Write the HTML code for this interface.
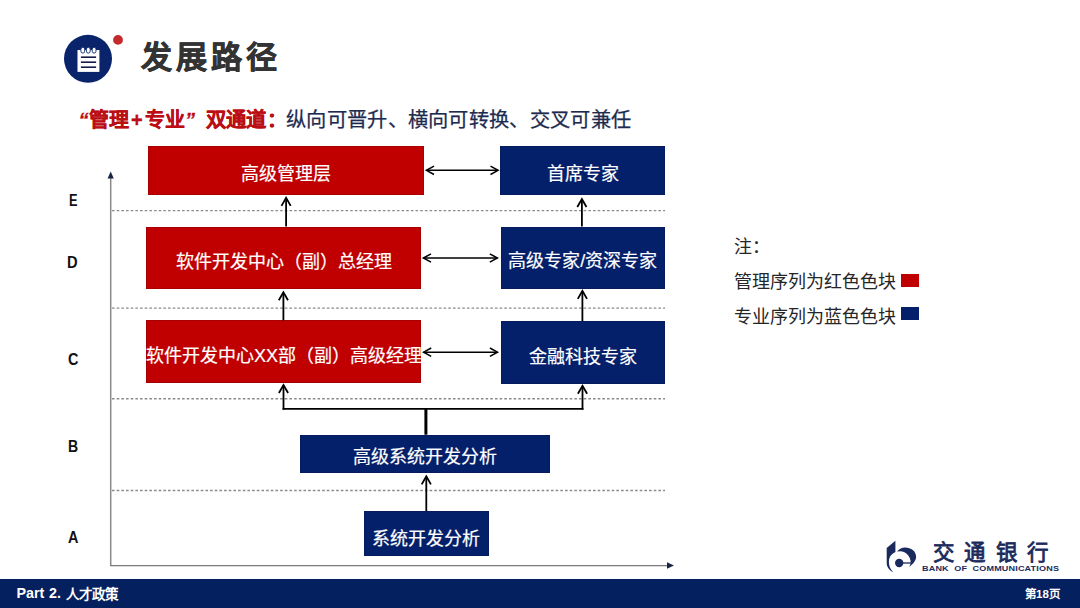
<!DOCTYPE html>
<html lang="zh-CN"><head><meta charset="utf-8">
<style>
html,body{margin:0;padding:0;}
body{width:1080px;height:608px;position:relative;overflow:hidden;background:#fff;font-family:"Liberation Sans",sans-serif;}
.abs{position:absolute;white-space:nowrap;line-height:1;}
.box{position:absolute;box-shadow:inset 0 0 0 1px rgba(0,0,0,0.12);color:#fff;font-size:18px;white-space:nowrap;line-height:1;}
.box span{position:absolute;left:0;right:0;text-align:center;-webkit-text-stroke:0.2px #fff;}
.red{background:#c00000;}
.blue{background:#05206a;}
.lbl{position:absolute;font-weight:bold;font-size:16px;color:#111;line-height:1;}
.rt{position:absolute;font-weight:bold;font-size:20px;color:#bb0d14;-webkit-text-stroke:0.3px #bb0d14;line-height:1;white-space:nowrap;}
</style></head><body>
<svg class="abs" style="left:0;top:0" width="1080" height="608" viewBox="0 0 1080 608">
  <circle cx="88" cy="58.8" r="24" fill="#0a246c"/>
  <circle cx="118" cy="39.9" r="4.9" fill="#c42a2a"/>
  <rect x="77.5" y="50" width="21.9" height="21.9" fill="#fff"/>
  <rect x="80.9" y="47.3" width="3.8" height="5.8" rx="1.9" fill="#fff" stroke="#0a246c" stroke-width="0.9"/>
  <rect x="86.4" y="47.3" width="3.8" height="5.8" rx="1.9" fill="#fff" stroke="#0a246c" stroke-width="0.9"/>
  <rect x="92.2" y="47.3" width="3.8" height="5.8" rx="1.9" fill="#fff" stroke="#0a246c" stroke-width="0.9"/>
  <rect x="80.9" y="56.4" width="15.2" height="1.6" fill="#141d45"/>
  <rect x="80.9" y="61.4" width="15.2" height="1.6" fill="#141d45"/>
  <rect x="80.9" y="66.4" width="15.2" height="1.6" fill="#141d45"/>
  <line x1="110.7" y1="177" x2="110.7" y2="566" stroke="#8a8a8a" stroke-width="1.5"/>
  <polygon points="110.7,171.5 107.6,178.5 113.8,178.5" fill="#1a2545"/>
  <line x1="110" y1="565.5" x2="668" y2="565.5" stroke="#7a7a7a" stroke-width="1.25"/>
  <polygon points="674,565.5 667,562.3 667,568.7" fill="#1a2545"/>
  <g stroke="#8a8a8a" stroke-dasharray="2.6 2.07">
    <line x1="112" y1="210.7" x2="665" y2="210.7" stroke-width="1.2"/>
    <line x1="112" y1="308.2" x2="665" y2="308.2" stroke-width="1.2"/>
    <line x1="112" y1="398.8" x2="665" y2="398.8" stroke-width="1.5"/>
    <line x1="112" y1="490.6" x2="665" y2="490.6" stroke-width="1.5"/>
  </g>
</svg>
<div class="abs" style="left:141px;top:41.5px;font-size:31px;letter-spacing:4px;font-weight:bold;color:#333;-webkit-text-stroke:0.6px #333">发展路径</div>
<div class="rt" style="left:78.5px;top:109.5px;font-style:italic">“</div>
<div class="rt" style="left:89px;top:109.5px">管理</div>
<div class="rt" style="left:131px;top:109.5px">+</div>
<div class="rt" style="left:145px;top:109.5px">专业</div>
<div class="rt" style="left:185px;top:109.5px;font-style:italic">”</div>
<div class="rt" style="left:206px;top:109.5px;font-size:20.4px">双通道</div><div class="rt" style="left:267px;top:109.5px">：</div>
<div class="abs" style="left:286px;top:109.5px;font-size:20.3px;letter-spacing:0.31px;color:#1e2b50;-webkit-text-stroke:0.25px #1e2b50">纵向可晋升、横向可转换、交叉可兼任</div>

<div class="box red" style="left:148px;top:146px;width:276px;height:48.6px"><span style="top:19px">高级管理层</span></div>
<div class="box blue" style="left:500px;top:146px;width:165px;height:49px"><span style="top:19px">首席专家</span></div>
<div class="box red" style="left:146px;top:226.5px;width:275px;height:62.5px"><span style="top:26px">软件开发中心（副）总经理</span></div>
<div class="box blue" style="left:500.5px;top:226.5px;width:164.5px;height:62px"><span style="top:25.5px">高级专家/资深专家</span></div>
<div class="box red" style="left:146px;top:320.3px;width:275px;height:62.6px"><span style="top:26.5px">软件开发中心XX部（副）高级经理</span></div>
<div class="box blue" style="left:500.5px;top:321px;width:164.5px;height:62.5px"><span style="top:26.5px">金融科技专家</span></div>
<div class="box blue" style="left:300px;top:434.5px;width:250.3px;height:38.2px"><span style="top:13px">高级系统开发分析</span></div>
<div class="box blue" style="left:364px;top:511px;width:124.8px;height:44.8px"><span style="top:19.4px">系统开发分析</span></div>

<svg class="abs" style="left:0;top:0" width="1080" height="608" viewBox="0 0 1080 608">
 <g stroke="#000" fill="none">
  <line x1="426.4" y1="170.3" x2="498.1" y2="170.3" stroke-width="1.5"/><path d="M434.00 166.10 L426.40 170.3 L434.00 174.50" stroke-width="1.5"/><path d="M490.50 166.10 L498.10 170.3 L490.50 174.50" stroke-width="1.5"/>
  <line x1="423.4" y1="258.0" x2="497.40000000000003" y2="258.0" stroke-width="1.5"/><path d="M431.00 253.80 L423.40 258.0 L431.00 262.20" stroke-width="1.5"/><path d="M489.80 253.80 L497.40 258.0 L489.80 262.20" stroke-width="1.5"/>
  <line x1="423.59999999999997" y1="352.2" x2="497.5" y2="352.2" stroke-width="1.5"/><path d="M431.20 348.00 L423.60 352.2 L431.20 356.40" stroke-width="1.5"/><path d="M489.90 348.00 L497.50 352.2 L489.90 356.40" stroke-width="1.5"/>
  <line x1="286.1" y1="226.5" x2="286.1" y2="198.4" stroke-width="1.8"/><path d="M281.50 205.90 L286.1 197.90 L290.70 205.90" stroke-width="1.8"/>
  <line x1="581.9" y1="226.5" x2="581.9" y2="199.5" stroke-width="1.8"/><path d="M577.30 207.00 L581.9 199.00 L586.50 207.00" stroke-width="1.8"/>
  <line x1="283.4" y1="320.5" x2="283.4" y2="292.8" stroke-width="1.8"/><path d="M278.80 300.30 L283.4 292.30 L288.00 300.30" stroke-width="1.8"/>
  <line x1="582.4" y1="321" x2="582.4" y2="291.40000000000003" stroke-width="1.8"/><path d="M577.80 298.90 L582.4 290.90 L587.00 298.90" stroke-width="1.8"/>
  <line x1="283.5" y1="409.7" x2="283.5" y2="385.5" stroke-width="1.8"/><path d="M278.90 393.00 L283.5 385.00 L288.10 393.00" stroke-width="1.8"/>
  <line x1="582.5" y1="409.7" x2="582.5" y2="386.3" stroke-width="1.8"/><path d="M577.90 393.80 L582.5 385.80 L587.10 393.80" stroke-width="1.8"/>
  <line x1="282.6" y1="408.9" x2="583.4" y2="408.9" stroke-width="1.7"/>
  <line x1="425.9" y1="408.2" x2="425.9" y2="434.7" stroke-width="3"/>
  <line x1="426.3" y1="511" x2="426.3" y2="476.90000000000003" stroke-width="1.8"/><path d="M421.70 484.40 L426.3 476.40 L430.90 484.40" stroke-width="1.8"/>
 </g>
</svg>

<div class="lbl" style="left:69.4px;top:193px;transform:scaleX(0.8);transform-origin:0 0">E</div>
<div class="lbl" style="left:67.3px;top:255px;transform:scaleX(0.92);transform-origin:0 0">D</div>
<div class="lbl" style="left:67.6px;top:352px;transform:scaleX(0.9);transform-origin:0 0">C</div>
<div class="lbl" style="left:67.6px;top:439.3px;transform:scaleX(0.88);transform-origin:0 0">B</div>
<div class="lbl" style="left:67.6px;top:529.6px;transform:scaleX(0.9);transform-origin:0 0">A</div>

<div class="abs" style="left:734px;top:238px;font-size:18px;color:#262626">注：</div>
<div class="abs" style="left:734px;top:272.5px;font-size:18px;color:#262626">管理序列为红色色块</div>
<div class="abs" style="left:734px;top:308px;font-size:18px;color:#262626">专业序列为蓝色色块</div>
<div class="abs red" style="left:900.5px;top:274.4px;width:18.5px;height:13px"></div>
<div class="abs blue" style="left:900.5px;top:307px;width:18.5px;height:13.4px"></div>


<svg class="abs" style="left:0;top:0" width="1080" height="608" viewBox="0 0 1080 608">
  <g fill="#1b2a5c">
    <path d="M895.4 540.8 L886.7 548 L886.7 563 C886.7 567 889.5 570.5 893.3 572.3 C890 569 888.9 565.5 888.9 562 A10.8 10.8 0 0 1 895.4 552.1 Z"/>
    <path d="M897 551.55 A10.8 10.8 0 0 1 909.3 566.9 C913 564 916.1 560.5 916.1 556.75 C916.1 551 911 547.4 905.1 547.4 C901.5 547.4 898.8 549.3 897 551.55 Z"/>
    <circle cx="899.2" cy="563" r="4.2"/>
    <rect x="899.5" y="562.35" width="11.3" height="1.3"/>
  </g>
</svg>
<div class="abs" style="left:933px;top:542.5px;font-family:'Liberation Serif',serif;font-weight:normal;-webkit-text-stroke:0.8px #1b2a5c;font-size:21.5px;letter-spacing:9.4px;color:#1b2a5c">交通银行</div>
<div class="abs" style="left:922.2px;top:565.3px;font-size:7.9px;font-weight:bold;letter-spacing:0.15px;word-spacing:2.4px;transform:scaleX(1.145);transform-origin:0 0;color:#1b2a5c">BANK OF COMMUNICATIONS</div>
<div class="abs" style="left:0;top:579px;width:1080px;height:29px;background:#05205e"></div>
<div class="abs" style="left:16.5px;top:586px;font-size:14.3px;font-weight:bold;color:#fff;word-spacing:0.8px">Part 2.</div><div class="abs" style="left:65.5px;top:588.3px;font-size:13.5px;font-weight:bold;color:#fff">人才政策</div>
<div class="abs" style="left:1025px;top:588.5px;font-size:11.5px;font-weight:bold;color:#fff">第18页</div>
</body></html>
